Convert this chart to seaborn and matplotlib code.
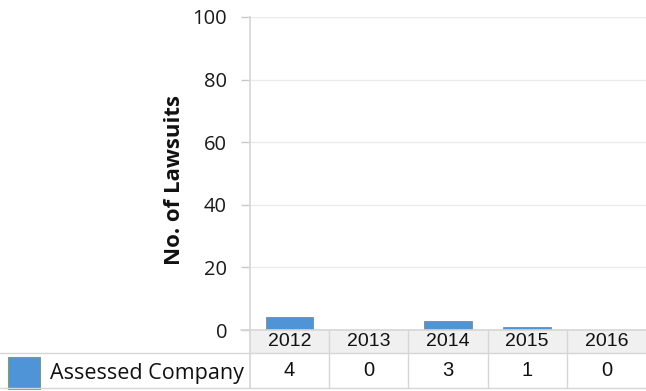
import matplotlib
matplotlib.use("Agg")
import matplotlib.pyplot as plt
from matplotlib.transforms import blended_transform_factory
from matplotlib.patches import Rectangle
import seaborn as sns
import pandas as pd

# Lawsuit counts per year
years = ["2012", "2013", "2014", "2015", "2016"]
lawsuits = [4, 0, 3, 1, 0]
series_name = "Assessed Company"
y_ticks = [0, 20, 40, 60, 80, 100]

BLUE = "#4f94d6"
GRID = "#ebebeb"
LINE = "#d6d6d6"

sns.set_theme(style="white")
plt.rcParams["font.family"] = ["Open Sans", "DejaVu Sans"]

df = pd.DataFrame({"year": years, "count": lawsuits})

fig = plt.figure(figsize=(6.46, 3.91), dpi=100)
ax = fig.add_axes([250 / 646, 1 - 330 / 391, 396 / 646, 313 / 391])

sns.barplot(data=df, x="year", y="count", color=BLUE, width=0.6,
            edgecolor="#7a8a99", linewidth=0.6, saturation=1, ax=ax)

ax.set_ylim(0, 100)
ax.set_xlim(-0.5, len(years) - 0.5)
ax.set_yticks(y_ticks)
ax.set_yticklabels([str(t) for t in y_ticks], fontsize=14.5, color="#1a1a1a")
ax.set_xticks([])
ax.set_xlabel("")
ax.set_ylabel("")
ax.yaxis.grid(True, color=GRID, linewidth=1)
ax.set_axisbelow(True)
ax.tick_params(axis="y", which="major", left=True, length=6.5, width=1,
               color="#c8c8c8", pad=10)
for side in ["top", "right", "bottom"]:
    ax.spines[side].set_visible(False)
ax.spines["left"].set_color(LINE)
ax.spines["left"].set_linewidth(1.2)

fig.text(175 / 646, 1 - 180 / 391, "No. of Lawsuits", rotation=90,
         ha="center", va="center", fontsize=16, fontweight="bold",
         color="#111111")

# Data table under the plot
tr = blended_transform_factory(ax.transData, ax.transAxes)
px = 1 / 313.0
header_bottom = -23 * px
row_bottom = -58 * px

ax.add_patch(Rectangle((-0.5, header_bottom), len(years), -header_bottom,
                       transform=tr, facecolor="#f0f0f0", edgecolor="none",
                       clip_on=False, zorder=0))
ax.axhline(0, xmin=-9 / 396, xmax=1, color=LINE, linewidth=1.2, clip_on=False)

for i in range(1, len(years)):
    ax.plot([i - 0.5, i - 0.5], [0, row_bottom], transform=tr, color=LINE,
            linewidth=1, clip_on=False)
ax.plot([-0.5, -0.5], [0, row_bottom], transform=tr, color=LINE,
        linewidth=1.2, clip_on=False)

fig.add_artist(plt.Line2D([0, 1], [1 - 353 / 391] * 2, color=LINE, linewidth=1))
fig.add_artist(plt.Line2D([0, 1], [1 - 388 / 391] * 2, color=LINE, linewidth=1))

for i, (yr, v) in enumerate(zip(years, lawsuits)):
    ax.text(i, header_bottom / 2, yr, transform=tr, ha="center", va="center",
            fontsize=14, family="Liberation Sans", color="#111111",
            clip_on=False)
    ax.text(i, (header_bottom + row_bottom) / 2, str(v), transform=tr,
            ha="center", va="center", fontsize=14.5, family="Liberation Sans",
            color="#111111", clip_on=False)

fig.add_artist(Rectangle((8 / 646, 1 - 389 / 391), 32 / 646, 32 / 391,
                         transform=fig.transFigure, facecolor=BLUE,
                         edgecolor="#7a9a8a", linewidth=0.8))
fig.text(50 / 646, 1 - 373 / 391, series_name, ha="left", va="center",
         fontsize=15.5, color="#111111")

fig.savefig("out.png", dpi=100)
